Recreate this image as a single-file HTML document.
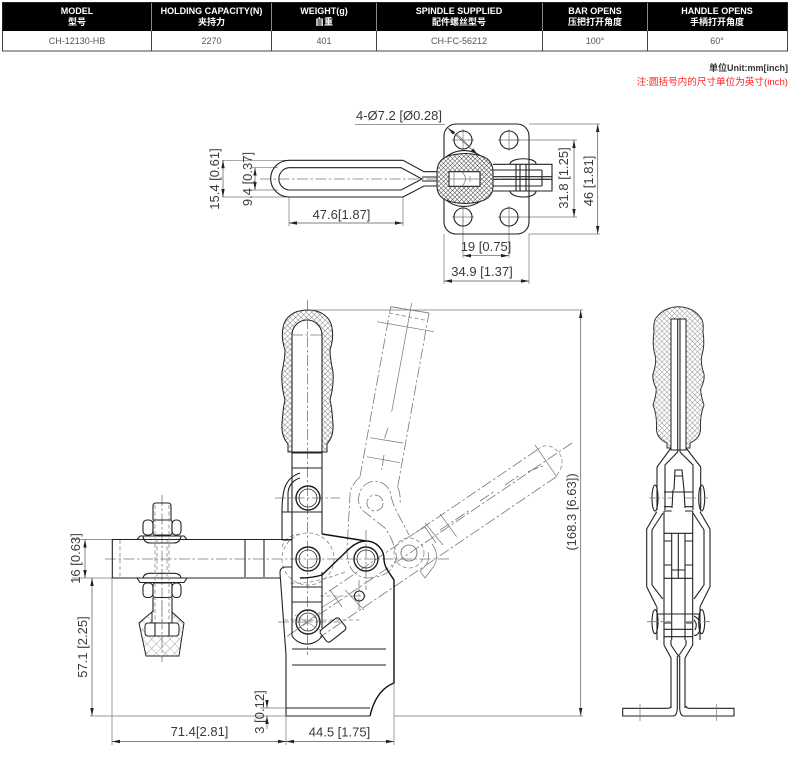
<!DOCTYPE html>
<html><head><meta charset="utf-8"><style>
html,body{margin:0;padding:0;background:#fff}
svg{display:block}
text{font-family:"Liberation Sans","Noto Sans CJK SC",sans-serif}
.d text{font-size:13px;fill:#3a3a3a}
.h text{font-size:9px;font-weight:bold;fill:#fff;text-anchor:middle}
.c text{font-size:9px;fill:#555;text-anchor:middle}
.s{fill:none;stroke:#222;stroke-width:1.1}
.b{fill:none;stroke:#111;stroke-width:1.4}
.t{fill:none;stroke:#777;stroke-width:.7}
.p{fill:none;stroke:#777;stroke-width:.8;stroke-dasharray:11 2.5 2.5 2.5}
.q{fill:none;stroke:#888;stroke-width:.8;stroke-dasharray:4 2.5}
.m{fill:none;stroke:#555;stroke-width:.7}
.ar{marker-start:url(#a);marker-end:url(#a)}
</style></head><body>
<svg width="790" height="769" viewBox="0 0 790 769" xmlns="http://www.w3.org/2000/svg">
<defs>
<marker id="a" markerUnits="userSpaceOnUse" markerWidth="8" markerHeight="4" refX="8" refY="2" orient="auto-start-reverse"><path d="M8 2L0 .3V3.7Z" fill="#222"/></marker>
<pattern id="h1" width="3.2" height="3.2" patternUnits="userSpaceOnUse" patternTransform="rotate(45)"><rect width="3.2" height="3.2" fill="#fff"/><path d="M0 0H3.2M0 0V3.2" stroke="#333" stroke-width=".9"/></pattern>
<pattern id="h2" width="3.8" height="3.8" patternUnits="userSpaceOnUse" patternTransform="rotate(45)"><rect width="3.8" height="3.8" fill="#fff"/><path d="M0 0H3.8M0 0V3.8" stroke="#555" stroke-width=".7"/></pattern>
<pattern id="h3" width="3.6" height="3.6" patternUnits="userSpaceOnUse" patternTransform="rotate(45)"><rect width="3.6" height="3.6" fill="#fff"/><path d="M0 0H3.6M0 0V3.6" stroke="#888" stroke-width=".8"/></pattern>
<pattern id="h4" width="6.5" height="6.5" patternUnits="userSpaceOnUse" patternTransform="rotate(45)"><rect width="6.5" height="6.5" fill="#fff"/><path d="M0 0H6.5M0 0V6.5" stroke="#666" stroke-width=".6"/></pattern>
</defs>

<!-- table -->
<rect x="2.500" y="2.500" width="785" height="48.500" fill="#fff" stroke="#444"/>
<rect x="2.500" y="2.500" width="785" height="28.500" fill="#000"/>
<path d="M151.500 3V31M271.500 3V31M376.500 3V31M542.500 3V31M647.500 3V31" stroke="#888" fill="none"/>
<path d="M151.500 31V51M271.500 31V51M376.500 31V51M542.500 31V51M647.500 31V51" stroke="#444" fill="none"/>
<g class="h">
<text x="77" y="14">MODEL</text><text x="77" y="25">型号</text>
<text x="211.500" y="14">HOLDING CAPACITY(N)</text><text x="211.500" y="25">夹持力</text>
<text x="324" y="14">WEIGHT(g)</text><text x="324" y="25">自重</text>
<text x="459" y="14">SPINDLE SUPPLIED</text><text x="459" y="25">配件螺丝型号</text>
<text x="595" y="14">BAR OPENS</text><text x="595" y="25">压把打开角度</text>
<text x="717" y="14">HANDLE OPENS</text><text x="717" y="25">手柄打开角度</text>
</g>
<g class="c">
<text x="77" y="44">CH-12130-HB</text><text x="211.500" y="44">2270</text><text x="324" y="44">401</text><text x="459" y="44">CH-FC-56212</text><text x="595" y="44">100°</text><text x="717" y="44">60°</text>
</g>
<text x="788" y="71" text-anchor="end" font-size="9" font-weight="bold" fill="#333">单位Unit:mm[inch]</text>
<text x="788" y="85" text-anchor="end" font-size="9.600" fill="#f22">注:圆括号内的尺寸单位为英寸(inch)</text>

<!-- TOP VIEW -->
<g class="t">
<path d="M260 179H548" class="p"/>
<path d="M222 160.300H289M222 197H289M252 167.700H278M252 190H278M289 197V226M403 197V226M463 217V258M509 217V258M444 234V284M529 234V284M529 124H600M529 234H600M509 140H577M509 217H577"/>
<path d="M463 129V151M452 140H474M509 129V151M498 140H520M463 206V228M452 217H474M509 206V228M498 217H520" />
<path d="M355 124.500H445"/>
</g>
<rect x="444" y="124" width="85" height="110" rx="12" class="s"/>
<circle cx="463" cy="140" r="9" class="s"/><circle cx="509" cy="140" r="9" class="s"/><circle cx="463" cy="217" r="9" class="s"/><circle cx="509" cy="217" r="9" class="s"/>
<path d="M456 133L470 147" class="t"/>
<path d="M445 158A28 28 0 0 1 483 158M445 199A28 28 0 0 0 483 199" class="s"/>
<path d="M510 164C511 157 536 157 536 164M510 191C511 199 536 199 536 191" class="s"/>
<path d="M289 160.300H403L424 171.700H437M403 197L424 186H437M289 160.300A18.300 18.300 0 0 0 289 197H403M289 167.700H401L422 179L401 190H289M289 167.700A11.200 11.200 0 0 0 289 190M422 177H437M422 181H437" class="s"/>
<path d="M493 164.300H552V191H493M493 170H542M493 176.700H552M493 179.300H552M493 186H542M542 170V186M516 164V191M520 164V191M526 164V191" class="s" stroke-width=".9"/>
<path d="M452 155Q465 152 478 155Q493 158 493 172V186Q493 199 478 202Q465 205 452 202Q437 199 437 186V172Q437 158 452 155Z" fill="url(#h1)" stroke="#222"/>
<rect x="449" y="171.700" width="31" height="14.600" fill="#fff" stroke="#222" stroke-width="1.100"/>
<path d="M454 172V186M462 172Q469 179 462 186M470 176V182M449 179H480" class="t"/>
<path d="M448 128L478 155" class="m ar"/>
<g class="m">
<path d="M223 160.300V197" class="ar"/>
<path d="M255 167.700V190" class="ar"/>
<path d="M289 223H403" class="ar"/>
<path d="M463 255.700H509" class="ar"/>
<path d="M444 281H529" class="ar"/>
<path d="M597.700 124V234" class="ar"/>
<path d="M574 140V217" class="ar"/>
</g>
<g class="d">
<text x="399" y="120" text-anchor="middle" font-size="13.500">4-Ø7.2 [Ø0.28]</text>
<text x="341.500" y="219" text-anchor="middle">47.6[1.87]</text>
<text x="486" y="251" text-anchor="middle">19 [0.75]</text>
<text x="482" y="276" text-anchor="middle">34.9 [1.37]</text>
<text transform="translate(219,179) rotate(-90)" text-anchor="middle">15.4 [0.61]</text>
<text transform="translate(252,179) rotate(-90)" text-anchor="middle">9.4 [0.37]</text>
<text transform="translate(568,178) rotate(-90)" text-anchor="middle">31.8 [1.25]</text>
<text transform="translate(593,181) rotate(-90)" text-anchor="middle">46 [1.81]</text>
</g>

<!-- FRONT VIEW phantom -->
<path d="M390.700 306.700L429 313M360 476.700L390.700 306.700M397.700 486.700L429 313M388 428L384 440M384 455L381.700 470" class="p"/>
<path d="M390.700 306.700L429 313M370 437.700L403 443M366.700 456.700L400 462.700M377 321.700L434 331.700M411.700 303L391.700 411.700" class="t"/>
<path d="M389 313L427.700 320.700" class="q"/>
<path d="M360 477Q350 486 350 495L347 550Q347 575 366 578Q384 578 392 568L396.700 558Q394 540 385 528L362 510Q355 500 362 488A16 16 0 0 1 391 496Q393 505 397 512L409 535" class="p"/>
<path d="M397.700 487Q401 495 400 505" class="p"/>
<circle cx="375" cy="503" r="8" class="p"/>
<circle cx="409" cy="553" r="8" fill="none" stroke="#666" stroke-width=".8"/>
<circle cx="409" cy="553" r="15" class="q"/>
<path d="M537 450L322 596M556 477L320 637M572 443L286 637M528 471.700L545 465M505 485L520 475M480 501L495 491M440 530L470 510" class="p"/>
<path d="M537 450Q546 442 555 449Q566 458 560 470Q557 475 556 477" class="q"/>
<path d="M535 445L556.700 476.700M440 514L456.700 536.700M425 523L443 545M415 533L425 527L436 543M340 596L321 608M330 590L342 607M345 590L364 610" class="t"/>
<path d="M432 544Q440 555 434 566L425 578L420 571Q431 563 428 552" class="t" stroke="#444"/>
<path d="M300 534Q284 536 282 548M345 572Q310 585 290 583M320 596H348M284 620H360" class="q"/>
<circle cx="308" cy="559" r="26" class="q"/>

<!-- centerlines -->
<path d="M105 559H450M307.500 300V655M162 495V662M275 498H340M278 622H340M366 530V590M359 580V610M350 596H368" class="p"/>

<!-- grip -->
<path d="M288 452V444Q281 436 282 424Q283 408 285 400Q281 385 282 372Q285 358 285 350Q281 338 283 328C284 318 293 310 307.500 310C322 310 331 318 332 328Q334 338 330 350Q330 358 333 372Q334 385 330 400Q332 408 333 424Q334 436 327 444V452Z" fill="url(#h2)" stroke="#222"/>
<path d="M292 452V335A15 15 0 0 1 322 335V452Z" fill="#fff" stroke="#222" stroke-width="1.100"/>
<path d="M292 335H322M307.500 318V452" class="p"/>
<path d="M292 452V636M322 452V534M322 572V628" class="s"/>
<path d="M292 453H322M292 468H322M292 512H322M292 587H322M292 602H322" class="s"/>
<!-- hook -->
<path d="M282 540V512C282 490 285 478 300 473M288 512V494C288 486 293 480 300 478M282 512H292M282 540H292" class="s"/>
<!-- bar -->
<path d="M292 539.500H112.300V578H137M187 578H280M245 540V577M264 540V577" class="s"/>
<path d="M120 540V577" class="q" stroke="#555"/>
<!-- link -->
<path d="M322 534L366 541A18 18 0 0 1 384 559Q384 565 388 571L394 580V683Q376 690 370 716M366 541Q358 541 350 548L322 575Q312 578 300 578" class="b"/>
<!-- base -->
<path d="M292 567H286Q280 567 280 573L286 655V716H370M286 708H370M292 649H386M292 665H386" class="s"/>
<!-- pivots -->
<g fill="none" stroke="#222">
<circle cx="308" cy="498" r="12" stroke-width="1.400"/><circle cx="308" cy="498" r="9" stroke-width=".8"/>
<circle cx="308" cy="559" r="12" stroke-width="1.400"/><circle cx="308" cy="559" r="9" stroke-width=".8"/>
<circle cx="366" cy="559" r="12" stroke-width="1.400"/><circle cx="366" cy="559" r="9" stroke-width=".8"/>
<circle cx="308" cy="622" r="12" stroke-width="1.400"/><circle cx="308" cy="622" r="9" stroke-width=".8"/>
<path d="M292 636A18 18 0 0 0 322 636" stroke-width="1.100"/>
</g>
<path d="M295 615L320 630M296 630L320 612" class="t"/>
<circle cx="359.300" cy="596" r="5" class="s"/>
<rect x="-12" y="-7.500" width="24" height="15" rx="3" transform="translate(333,630) rotate(-38)" class="s"/>

<!-- spindle -->
<path d="M153 520V506Q153 503 156 503H168Q171 503 171 506V520" class="s"/>
<g class="s">
<rect x="143" y="520" width="10" height="15" rx="4"/><rect x="153" y="520" width="19" height="15" rx="2"/><rect x="172" y="520" width="9" height="15" rx="4"/>
<path d="M137 539.500L140 536H184L187 539.500ZM143 536Q144 543 150 543H174Q180 543 181 536"/>
<path d="M137 578H187L184 582.500H140ZM143 578Q144 573.300 150 573.300H174Q180 573.300 181 578"/>
<rect x="143" y="583" width="10" height="14.500" rx="4"/><rect x="153" y="583" width="19" height="14.500" rx="2"/><rect x="172" y="583" width="9" height="14.500" rx="4"/>
<path d="M153 597.500V612M172 597.500V612"/>
</g>
<path d="M155 505V623M169 505V623M157 540V578M167 540V578" class="q" stroke="#666"/>
<path d="M152 612L139 623L146 656H179L184 623L172 612V623H152Z" fill="url(#h4)" stroke="#222"/>
<rect x="145" y="623" width="34" height="13" rx="3" fill="#fff" stroke="#222"/>
<path d="M155 623V636M169 623V636" class="s"/>
<path d="M162 600V662" class="p"/>

<!-- front dims -->
<g class="t">
<path d="M72 539.500H112M72 578H112M90 716H286M112 578V745M286 716V745M394 683V745M310 310H583M394 716H583M260 708H286"/>
</g>
<g class="m">
<path d="M85 539.500V578" class="ar"/>
<path d="M92 578V716" class="ar"/>
<path d="M112 741.500H286" class="ar"/>
<path d="M286 741.500H394" class="ar"/>
<path d="M580.700 310V716" class="ar"/>
<path d="M267 700V708" marker-end="url(#a)"/><path d="M267 729V716" marker-end="url(#a)"/>
</g>
<g class="d">
<text transform="translate(80,558.500) rotate(-90)" text-anchor="middle">16 [0.63]</text>
<text transform="translate(87,647) rotate(-90)" text-anchor="middle">57.1 [2.25]</text>
<text transform="translate(264,712) rotate(-90)" text-anchor="middle">3 [0.12]</text>
<text x="199.500" y="736" text-anchor="middle">71.4[2.81]</text>
<text x="339.500" y="736.500" text-anchor="middle">44.5 [1.75]</text>
<text transform="translate(576,512) rotate(-90)" text-anchor="middle">(168.3 [6.63])</text>
</g>

<!-- SIDE VIEW -->
<path id="sg" d="M671 448H667V443Q656 438 656.500 428Q657 415 653 405Q657 393 656 388Q652 380 653 374Q657 362 655 355Q652 345 654 332Q653 322 656 318Q664 307 678.500 306.700Q693 307 701 318Q704 322 703 332Q705 345 702 355Q700 362 704 374Q705 380 701 388Q700 393 704 405Q700 415 700.500 428Q701 438 690 443V448H686V319H671Z" fill="url(#h3)" stroke="#333"/>
<path d="M671 319H686V450H671Z" fill="#fff" stroke="#222"/>
<path d="M677.700 319V452M680 319V452" class="s"/>
<g class="s">
<path d="M671 448L657 467V510M677.700 452L665 465V510M686 448L700.700 467V510M680 452L693 465V510"/>
<path d="M674 490L675 470H682L684 490M675 476H682M672 508L673 490M685 508L684 490"/>
<path d="M664 492H693M664 506.700H672M685 506.700H693"/>
<path d="M656.700 511.700L646.700 529V586.700L656.700 606.700M663 513L652 530V585L662.700 599"/>
<path d="M700 511.700L710 529V586.700L700 606.700M693 513L704 530V585L694 599"/>
<path d="M664 511V645L671 658V708M692.700 511V645L685 658V708M657 607V640M700 607V640"/>
<path d="M671.700 511H664M685 511H692.700M664 533.300H692.700M664 541H671.700M685 541H692.700M664 565H671.700M685 565H692.700M671.700 570H685M664 578.300H692.700M671.700 533V640M685 533V640M678.300 533V578M657 614H700M664 623H671M686 623H693M664 629.300H693M664 636.700H693"/>
<path d="M671 640V645L678.500 656L686 645V640"/>
<path d="M677.300 656V708Q677 716 673 716H622.700V708.300H668Q671 708 671 706M679.700 656V708Q680 716 684 716H734V708.300H689Q686 708 686 706"/>
<path d="M694 616Q702 620 700 630Q697 637 694 635M694 620Q698 624 695 630"/>
</g>
<ellipse cx="655" cy="498" rx="3" ry="13" class="s"/><ellipse cx="701.700" cy="498" rx="3" ry="13" class="s"/>
<ellipse cx="655" cy="621.700" rx="3" ry="12" class="s"/><ellipse cx="701.700" cy="621.700" rx="3" ry="12" class="s"/>
<path d="M649 498H672M685 498H708M647 621.700H672M685 621.700H710" class="p"/>
<path d="M640 704V721M716.700 704V721" class="t"/>
</svg>
</body></html>
